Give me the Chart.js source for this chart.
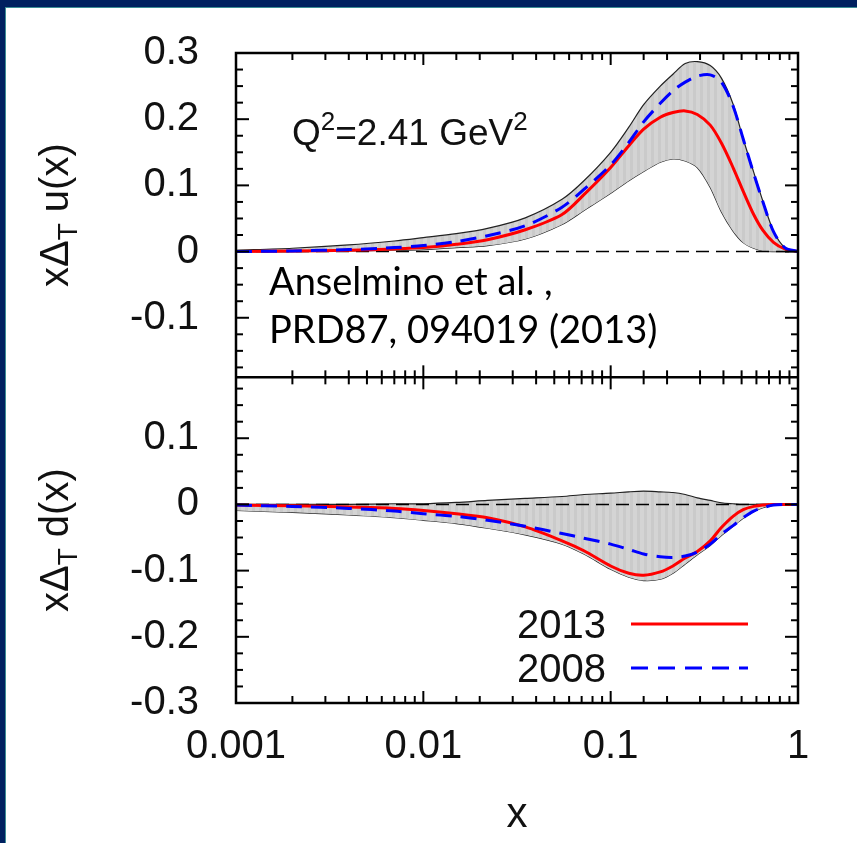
<!DOCTYPE html>
<html>
<head>
<meta charset="utf-8">
<title>Transversity xΔT u(x), xΔT d(x)</title>
<script src="https://cdn.jsdelivr.net/npm/chart.js@4.4.0/dist/chart.umd.min.js"></script>
<style>
  html, body { margin: 0; padding: 0; background: #fff; }
  #frame {
    position: absolute; left: 0; top: 0; width: 857px; height: 843px;
    box-sizing: border-box; background: #fff;
    border-top: 7px solid #002060; border-left: 5px solid #002060;
  }
  #frame::after {
    content: ''; position: absolute; left: 0; top: 0; right: 0; bottom: 0;
    border-top: 1px solid #3b8d95; border-left: 1px solid #3b8d95;
  }
  #wrap { position: absolute; left: 0; top: 0; width: 857px; height: 843px; }
</style>
</head>
<body>
<div id="frame"></div>
<div id="wrap"><canvas id="chart"></canvas></div>
<script>
// x grid shared by every curve (log scale)
var XS = [0.001, 0.002, 0.004, 0.007, 0.01, 0.015, 0.022, 0.035, 0.055, 0.072,
	0.1, 0.125, 0.15, 0.184, 0.215, 0.25, 0.29, 0.34, 0.39, 0.45,
	0.51, 0.58, 0.65, 0.74, 0.85, 1.0];

// top panel: x Delta_T u(x)
var U_2013 = [0, 0.001, 0.002, 0.004, 0.006, 0.011, 0.018, 0.033, 0.056, 0.086,
	0.127, 0.16, 0.185, 0.203, 0.21, 0.2125, 0.207, 0.191, 0.164, 0.127,
	0.091, 0.056, 0.032, 0.014, 0.004, 0];
var U_2008 = [0, 0.001, 0.003, 0.006, 0.009, 0.015, 0.024, 0.039, 0.067, 0.094,
	0.131, 0.165, 0.196, 0.224, 0.243, 0.256, 0.265, 0.267, 0.256, 0.22,
	0.17, 0.118, 0.075, 0.03, 0.006, 0];
var U_BAND_HI = [0.002, 0.005, 0.01, 0.016, 0.021, 0.027, 0.035, 0.051, 0.079, 0.107,
	0.15, 0.188, 0.222, 0.25, 0.268, 0.284, 0.287, 0.281, 0.262, 0.223,
	0.17, 0.12, 0.076, 0.031, 0.006, 0];
var U_BAND_LO = [0, 0, 0.001, 0.002, 0.003, 0.006, 0.009, 0.019, 0.041, 0.062,
	0.088, 0.107, 0.121, 0.135, 0.14, 0.137, 0.127, 0.097, 0.06, 0.031,
	0.0135, 0.005, 0.001, 0, 0, 0];

// bottom panel: x Delta_T d(x)
var D_2013 = [-0.001, -0.002, -0.004, -0.006, -0.009, -0.014, -0.02, -0.034, -0.055, -0.07,
	-0.093, -0.104, -0.107, -0.102, -0.093, -0.081, -0.071, -0.055, -0.035, -0.018,
	-0.008, -0.003, -0.001, 0, 0, 0];
var D_2008 = [-0.001, -0.003, -0.006, -0.01, -0.014, -0.018, -0.024, -0.033, -0.044, -0.051,
	-0.06, -0.068, -0.075, -0.079, -0.08, -0.078, -0.072, -0.06, -0.045, -0.032,
	-0.02, -0.01, -0.005, -0.001, 0, 0];
var D_BAND_HI = [0, 0, 0, 0.001, 0.001, 0.003, 0.006, 0.009, 0.012, 0.015,
	0.017, 0.019, 0.02, 0.019, 0.018, 0.015, 0.01, 0.006, 0.0025, 0.001,
	0, 0, 0, 0, 0, 0];
var D_BAND_LO = [-0.009, -0.012, -0.016, -0.02, -0.024, -0.029, -0.036, -0.046, -0.06, -0.075,
	-0.098, -0.11, -0.115, -0.113, -0.104, -0.09, -0.076, -0.062, -0.047, -0.033,
	-0.021, -0.011, -0.005, -0.001, 0, 0];

// axes
var X_LABELS = [0.001, 0.01, 0.1, 1];
var Y_TOP_LABELS = [-0.1, 0, 0.1, 0.2, 0.3];
var Y_BOT_LABELS = [-0.3, -0.2, -0.1, 0, 0.1];
var Y_TOP_RANGE = [-0.19, 0.3];
var Y_BOT_RANGE = [-0.3, 0.192];
var Y_MINOR_STEP = 0.025;

var FAMILY = "'Liberation Sans', Arial, Helvetica, sans-serif";
var RED = '#ff0000';
var BLUE = '#0000ff';

function points(ys) {
	return XS.map(function(x, i) { return {x: x, y: ys[i]}; });
}

function near(list, v) {
	for(var i = 0; i < list.length; i++) {
		if(Math.abs(list[i] - v) < 1e-6) return true;
	}
	return false;
}

function isDecade(v) {
	var l = Math.log10(v);
	return Math.abs(l - Math.round(l)) < 1e-6;
}

function bandPattern() {
	// light grey fill with faint vertical stripes, like the gnuplot band
	var c = document.createElement('canvas');
	c.width = 7;
	c.height = 2;
	var g = c.getContext('2d');
	g.fillStyle = '#d4d4d4';
	g.fillRect(0, 0, 7, 2);
	g.fillStyle = '#cacaca';
	g.fillRect(0, 0, 3, 2);
	return g.createPattern(c, 'repeat');
}

function yTicks(range) {
	return function(axis) {
		var out = [];
		var a = Math.ceil(range[0] / Y_MINOR_STEP - 1e-9);
		var b = Math.floor(range[1] / Y_MINOR_STEP + 1e-9);
		for(var k = a; k <= b; k++) {
			out.push({value: Math.round(k * Y_MINOR_STEP * 1000) / 1000});
		}
		axis.ticks = out;
	};
}

function line(ctx, x1, y1, x2, y2) {
	ctx.beginPath();
	ctx.moveTo(x1, y1);
	ctx.lineTo(x2, y2);
	ctx.stroke();
}

function drawYTitle(ctx, cx, cy, letter) {
	var big = '40px ' + FAMILY;
	var small = '28px ' + FAMILY;
	ctx.save();
	ctx.translate(cx, cy);
	ctx.rotate(-Math.PI / 2);
	ctx.fillStyle = '#111';
	ctx.textAlign = 'left';
	ctx.textBaseline = 'alphabetic';
	ctx.font = big;
	var w1 = ctx.measureText('x\u0394').width;
	var w3 = ctx.measureText(' ' + letter + '(x)').width;
	ctx.font = small;
	var w2 = ctx.measureText('T').width;
	var x0 = -(w1 + w2 + w3) / 2;
	ctx.font = big;
	ctx.fillText('x\u0394', x0, 0);
	ctx.font = small;
	ctx.fillText('T', x0 + w1, 9);
	ctx.font = big;
	ctx.fillText(' ' + letter + '(x)', x0 + w1 + w2, 0);
	ctx.restore();
}

function drawTextSup(ctx, parts, x, y) {
	// parts: [text, isSuperscript]
	parts.forEach(function(p) {
		ctx.font = (p[1] ? '26px ' : '37px ') + FAMILY;
		ctx.fillText(p[0], x, p[1] ? y - 15 : y);
		x += ctx.measureText(p[0]).width;
	});
}

var panelFrame = {
	id: 'panelFrame',
	afterDatasetsDraw: function(chart) {
		var ctx = chart.ctx;
		var xs = chart.scales.x;
		var yt = chart.scales.yTop;
		var yb = chart.scales.yBot;
		var L = xs.left, R = xs.right;
		var T = yt.top, M = yt.bottom, B = yb.bottom;

		ctx.save();
		ctx.strokeStyle = '#000';
		ctx.lineWidth = 2;

		// inward ticks on every edge, gnuplot style
		xs.ticks.forEach(function(t) {
			var px = xs.getPixelForValue(t.value);
			var len = isDecade(t.value) ? 12 : 7;
			line(ctx, px, B, px, B - len);
			line(ctx, px, M, px, M - len);
			line(ctx, px, M, px, M + len);
			line(ctx, px, T, px, T + len);
		});
		[[yt, Y_TOP_LABELS], [yb, Y_BOT_LABELS]].forEach(function(p) {
			p[0].ticks.forEach(function(t) {
				var py = p[0].getPixelForValue(t.value);
				var len = near(p[1], t.value) ? 13 : 7;
				line(ctx, L, py, L + len, py);
				line(ctx, R, py, R - len, py);
			});
		});

		ctx.lineWidth = 2.5;
		ctx.strokeRect(L, T, R - L, B - T);
		line(ctx, L, M, R, M);

		// axis titles with subscript T
		drawYTitle(ctx, 68, (T + M) / 2, 'u');
		drawYTitle(ctx, 68, (M + B) / 2, 'd');

		// annotations
		ctx.fillStyle = '#111';
		ctx.textAlign = 'left';
		ctx.textBaseline = 'alphabetic';
		drawTextSup(ctx, [['Q', false], ['2', true], ['=2.41 GeV', false], ['2', true]], 292, 145);

		var ref1 = 'Anselmino et al. ,';
		var ref2 = 'PRD87, 094019 (2013)';
		ctx.font = "36px Lato, 'Open Sans', sans-serif";
		var size = 36 * 388 / ctx.measureText(ref2).width;
		ctx.font = size.toFixed(1) + "px Lato, 'Open Sans', sans-serif";
		ctx.fillStyle = '#000';
		ctx.fillText(ref1, 269, 295);
		ctx.fillText(ref2, 269, 343);

		// legend
		ctx.font = '40px ' + FAMILY;
		ctx.textAlign = 'right';
		ctx.fillStyle = '#111';
		ctx.fillText('2013', 606, 638);
		ctx.fillText('2008', 606, 682);
		ctx.lineWidth = 3;
		ctx.strokeStyle = RED;
		line(ctx, 631, 624, 748, 624);
		ctx.strokeStyle = BLUE;
		ctx.setLineDash([17, 10]);
		line(ctx, 631, 668, 748, 668);
		ctx.setLineDash([]);
		ctx.restore();
	}
};

function curve(data, axis, color, width, dash, order) {
	return {
		data: points(data),
		yAxisID: axis,
		borderColor: color,
		borderWidth: width,
		borderDash: dash,
		pointRadius: 0,
		fill: false,
		tension: 0.3,
		order: order
	};
}

function band(hi, lo, axis, pattern) {
	var upper = curve(hi, axis, '#222', 1.2, [], 5);
	upper.fill = '+1';
	upper.backgroundColor = pattern;
	var lower = curve(lo, axis, '#222', 1.2, [], 5);
	return [upper, lower];
}

function zeroLine(axis) {
	return {
		data: [{x: XS[0], y: 0}, {x: XS[XS.length - 1], y: 0}],
		yAxisID: axis,
		borderColor: '#000',
		borderWidth: 1.6,
		borderDash: [13, 7],
		pointRadius: 0,
		fill: false,
		order: 3
	};
}

document.addEventListener('DOMContentLoaded', function() {
	Chart.defaults.font.family = FAMILY;
	Chart.defaults.color = '#111';

	var pattern = bandPattern();
	var datasets = []
		.concat(band(U_BAND_HI, U_BAND_LO, 'yTop', pattern))
		.concat(band(D_BAND_HI, D_BAND_LO, 'yBot', pattern))
		.concat([
			zeroLine('yTop'),
			zeroLine('yBot'),
			curve(U_2013, 'yTop', RED, 3, [], 1),
			curve(D_2013, 'yBot', RED, 3, [], 1),
			curve(U_2008, 'yTop', BLUE, 3, [16, 9], 0),
			curve(D_2008, 'yBot', BLUE, 3, [16, 9], 0)
		]);

	function yScale(range, labels) {
		return {
			type: 'linear',
			position: 'left',
			stack: 'panels',
			stackWeight: range[1] - range[0],
			min: range[0],
			max: range[1],
			grid: { display: false },
			border: { display: false },
			afterBuildTicks: yTicks(range),
			afterFit: function(scale) { scale.width = 236; },
			ticks: {
				autoSkip: false,
				padding: 29,
				font: { size: 40 },
				color: '#111',
				callback: function(v) {
					return near(labels, v) ? String(Math.round(v * 10) / 10) : '';
				}
			}
		};
	}

	new Chart(document.getElementById('chart'), {
		type: 'line',
		data: { datasets: datasets },
		options: {
			responsive: true,
			maintainAspectRatio: false,
			animation: false,
			layout: { padding: { top: 50, right: 59, left: 0, bottom: 0 } },
			plugins: {
				legend: { display: false },
				tooltip: { enabled: false },
				filler: { propagate: false }
			},
			scales: {
				x: {
					type: 'logarithmic',
					min: X_LABELS[0],
					max: X_LABELS[X_LABELS.length - 1],
					grid: { display: false },
					border: { display: false },
					afterFit: function(scale) { scale.height = 140; },
					ticks: {
						autoSkip: false,
						maxRotation: 0,
						padding: 12,
						font: { size: 40 },
						color: '#111',
						callback: function(v) {
							return near(X_LABELS, v) ? String(v) : '';
						}
					},
					title: {
						display: true,
						text: 'x',
						font: { size: 42 },
						color: '#111',
						padding: { top: 2, bottom: 2 }
					}
				},
				yBot: yScale(Y_BOT_RANGE, Y_BOT_LABELS),
				yTop: yScale(Y_TOP_RANGE, Y_TOP_LABELS)
			}
		},
		plugins: [panelFrame]
	});
});
</script>
</body>
</html>
